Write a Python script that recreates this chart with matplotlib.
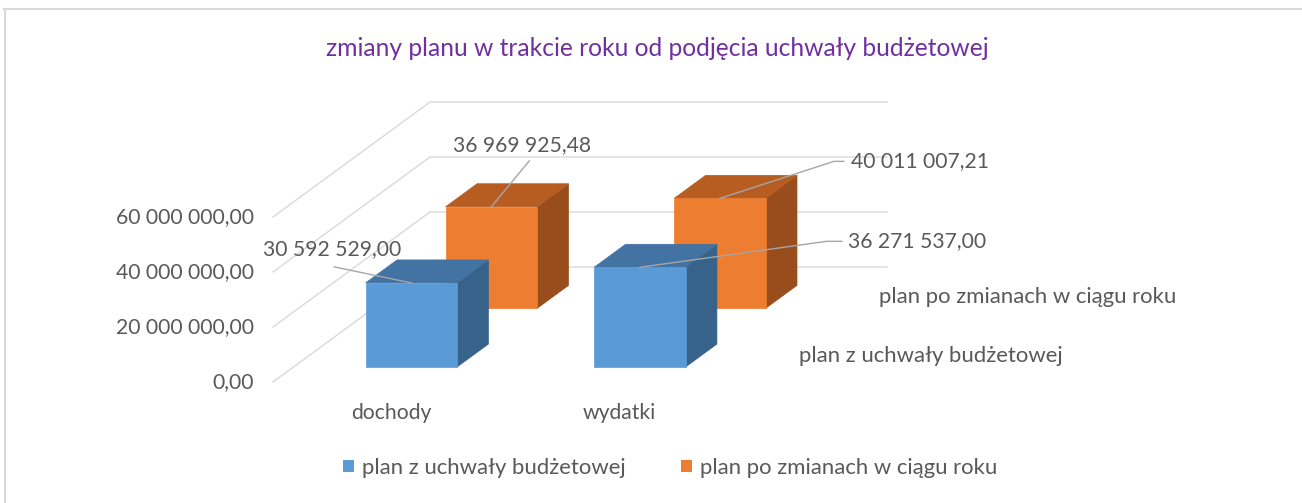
import matplotlib
matplotlib.use('Agg')
import matplotlib.pyplot as plt
from matplotlib.patches import Polygon, Patch
from matplotlib.lines import Line2D
import numpy as np

# ---------------- data ----------------
categories = ['dochody', 'wydatki']
series_names = ['plan z uchwały budżetowej', 'plan po zmianach w ciągu roku']
plan_uchwala = [30592529.00, 36271537.00]
plan_zmiany = [36969925.48, 40011007.21]
y_ticks = [0, 20_000_000, 40_000_000, 60_000_000]
title = 'zmiany planu w trakcie roku od podjęcia uchwały budżetowej'

# ---------------- style ----------------
plt.rcParams['font.family'] = ['Lato', 'DejaVu Sans']
TXT = '#595959'
GRID = '#D9D9D9'
FRONT = ['#5B9BD5', '#ED7D31']
TOP = ['#4273A3', '#B75D22']
SIDE = ['#37628A', '#9A4D1C']
FS = 15.2
FS_NAME = 15.9

W, H, DPI = 1302, 503, 100
fig = plt.figure(figsize=(W / DPI, H / DPI), dpi=DPI)
ax = fig.add_axes([0, 0, 1, 1])
ax.set_axis_off()

# oblique projection layout (pixels)
X0_PX, CAT_PX = 273, 228.5
Y0_PX, PX_PER_VAL = H - 382, 2.75e-6
ax.set_xlim(-X0_PX / CAT_PX, (W - X0_PX) / CAT_PX)
ax.set_ylim(-Y0_PX / PX_PER_VAL, (H - Y0_PX) / PX_PER_VAL)
DEPTH_X = 157 / CAT_PX
DEPTH_Y = 115 / PX_PER_VAL


def proj(x, v, z):
    return (x + z * DEPTH_X, v + z * DEPTH_Y)


def offset_pts(anchor, offs):
    base = ax.transData.transform(anchor)
    disp = np.array([base + np.array(o) for o in offs])
    return ax.transData.inverted().transform(disp)


def fmt(v):
    return f'{v:,.2f}'.replace(',', ' ').replace('.', ',')


# chart border (top + left)
fig.add_artist(Line2D([4 / W, 1], [1 - 9 / H, 1 - 9 / H], color=GRID, lw=1.5,
                      transform=fig.transFigure))
fig.add_artist(Line2D([4.5 / W, 4.5 / W], [0, 1 - 9 / H], color=GRID, lw=1.5,
                      transform=fig.transFigure))

# gridlines: side wall + back wall
n_cat = len(categories)
for v in y_ticks:
    pts = [proj(0, v, 0), proj(0, v, 1), proj(n_cat, v, 1)]
    xs, ys = zip(*pts)
    ax.plot(xs, ys, color=GRID, lw=1.0, zorder=1)
    x, y = proj(0, v, 0)
    ax.annotate(fmt(v), (x, y), xytext=(-19, 0), textcoords='offset pixels',
                ha='right', va='center', fontsize=FS, color=TXT)

# bars
series = [plan_uchwala, plan_zmiany]
z_rows = [(0.13, 0.33), (0.64, 0.84)]
bar_w = 0.40
cat_pos = [i + 0.516 for i in range(n_cat)]

label_offsets = {
    (0, 0): dict(text=(-79, 34), ha='center', leader=[(0, 0), (-77, 16)]),
    (0, 1): dict(text=(208, 26), ha='left', leader=[(0, 0), (187, 26), (202, 26)]),
    (1, 0): dict(text=(31, 62), ha='center', leader=[(0, 0), (38, 46)]),
    (1, 1): dict(text=(131, 37), ha='left', leader=[(0, 0), (114, 37), (124, 37)]),
}

for si in [1, 0]:
    z0, z1 = z_rows[si]
    zo = 3 if si == 1 else 5
    for ci, xc in enumerate(cat_pos):
        v = series[si][ci]
        x0, x1 = xc - bar_w / 2, xc + bar_w / 2
        front = [proj(x0, 0, z0), proj(x1, 0, z0), proj(x1, v, z0), proj(x0, v, z0)]
        top = [proj(x0, v, z0), proj(x1, v, z0), proj(x1, v, z1), proj(x0, v, z1)]
        side = [proj(x1, 0, z0), proj(x1, 0, z1), proj(x1, v, z1), proj(x1, v, z0)]
        ax.add_patch(Polygon(side, closed=True, fc=SIDE[si], ec=SIDE[si], lw=0.5, zorder=zo))
        ax.add_patch(Polygon(top, closed=True, fc=TOP[si], ec=TOP[si], lw=0.5, zorder=zo))
        ax.add_patch(Polygon(front, closed=True, fc=FRONT[si], ec=FRONT[si], lw=0.5, zorder=zo))

for si in [1, 0]:
    z0, z1 = z_rows[si]
    for ci, xc in enumerate(cat_pos):
        v = series[si][ci]
        anchor = proj(xc, v, z0)
        spec = label_offsets[(si, ci)]
        lp = offset_pts(anchor, spec['leader'])
        ax.plot(lp[:, 0], lp[:, 1], color='#A6A6A6', lw=1.0, zorder=8)
        ax.annotate(fmt(v), anchor, xytext=spec['text'], textcoords='offset pixels',
                    ha=spec['ha'], va='center', fontsize=FS, color=TXT, zorder=9)

# category labels
for ci, xc in enumerate(cat_pos):
    ax.annotate(categories[ci], proj(xc, 0, 0), xytext=(0, -31),
                textcoords='offset pixels', ha='center', va='center',
                fontsize=FS, color=TXT)

# series (depth) axis labels
for si in range(len(series_names)):
    zc = sum(z_rows[si]) / 2
    ax.annotate(series_names[si], proj(n_cat, 0, zc), xytext=(33, 0),
                textcoords='offset pixels', ha='left', va='center',
                fontsize=FS_NAME, color=TXT)

# title
fig.text(657 / W, 1 - 48 / H, title, ha='center', va='center',
         fontsize=17.7, color='#7030A0')

# legend
handles = [Patch(facecolor=FRONT[i], edgecolor='none', label=series_names[i])
           for i in range(2)]
fig.legend(handles=handles, loc='center', bbox_to_anchor=(670 / W, 1 - 468 / H),
           ncol=2, frameon=False, fontsize=FS_NAME, handlelength=0.5, handleheight=0.5,
           handletextpad=0.35, columnspacing=2.5, labelcolor=TXT)

fig.savefig('out.png', dpi=DPI, facecolor='white')
